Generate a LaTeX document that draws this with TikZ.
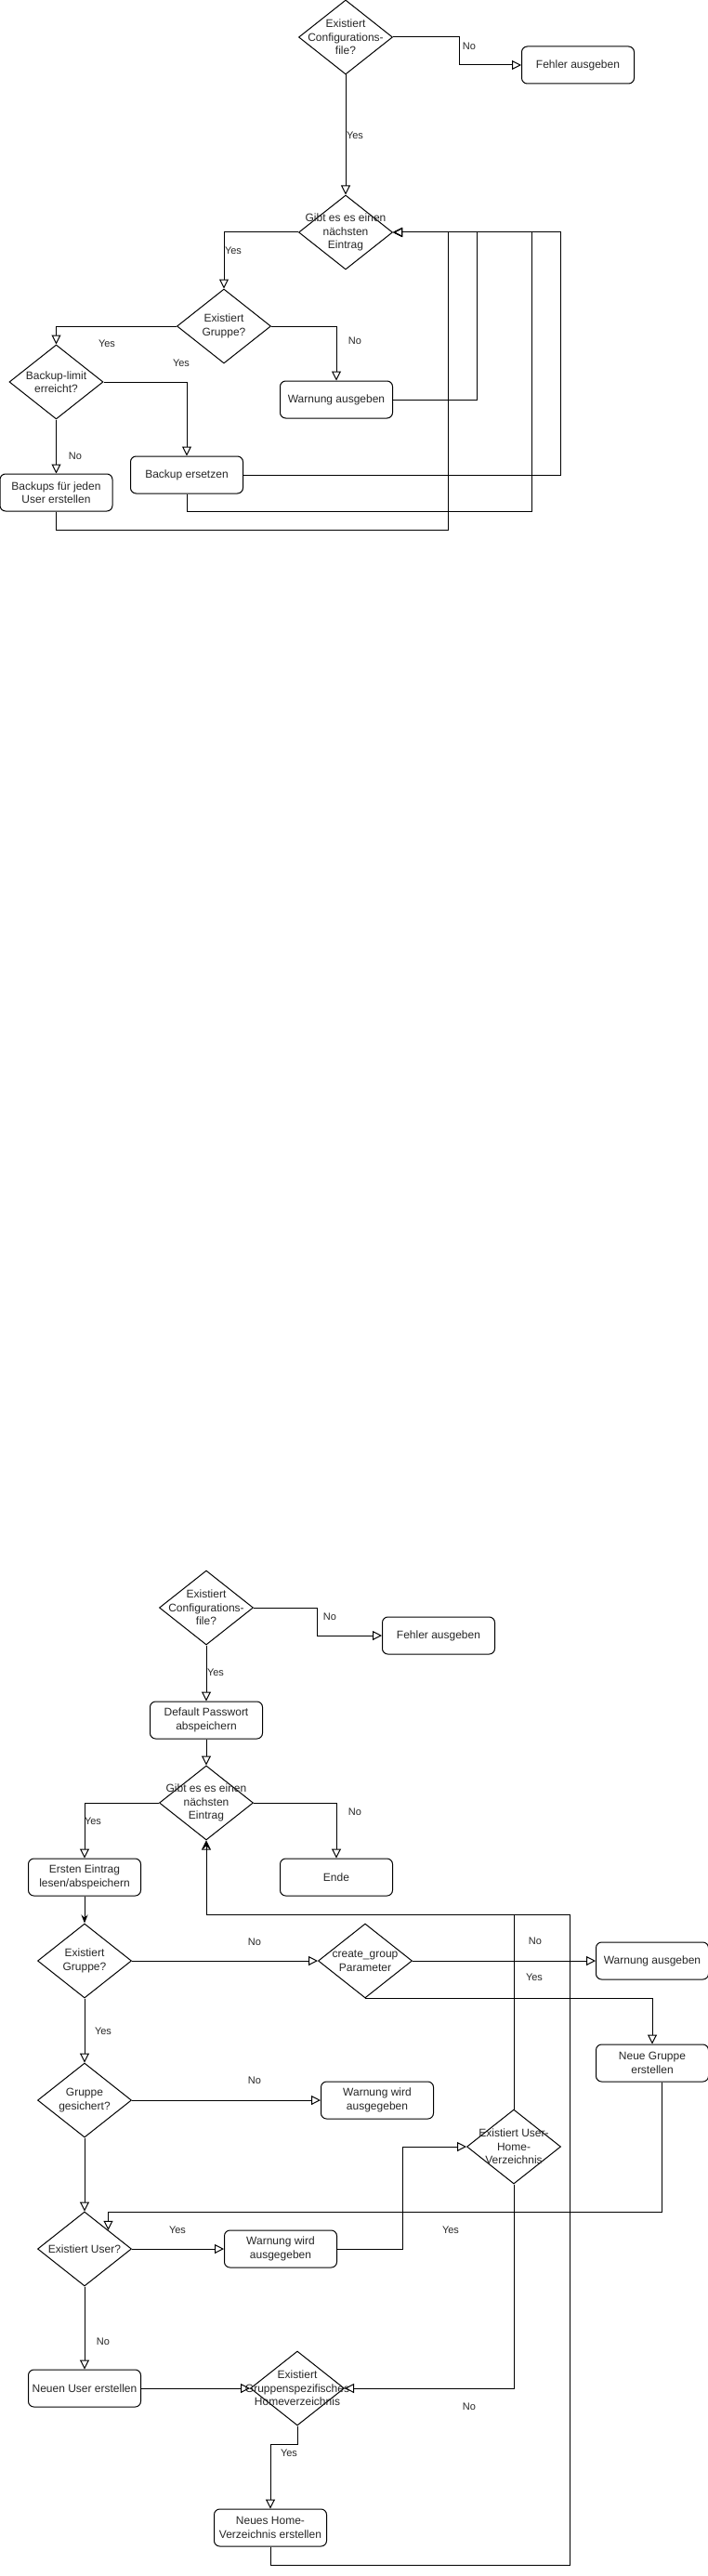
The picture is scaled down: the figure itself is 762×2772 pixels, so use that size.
\documentclass[tikz,border=0pt]{standalone}
\usepackage{fontspec}
\setmainfont{Liberation Sans}
\usetikzlibrary{shapes.geometric,arrows.meta}

\newcommand{\boxfont}{\fontsize{12}{14.4}\selectfont}
\newcommand{\lblfont}{\fontsize{11}{13}\selectfont}

\begin{document}
\begin{tikzpicture}[x=1pt,y=-1pt,line width=1pt,
    decision/.style={diamond,draw,minimum width=101pt,minimum height=80pt,inner sep=0pt},
    dtext/.style={align=center,font=\boxfont,text=black!85},
    process/.style={draw,rounded corners=6pt,minimum width=121pt,minimum height=40pt,
        inner sep=0pt,align=center,font=\boxfont,text=black!85},
    flow/.style={-{Triangle[open,length=10pt,width=10pt]}},
    flowfill/.style={-{Stealth[length=9pt,width=7pt]}},
    lbl/.style={font=\lblfont,text=black!85,inner sep=0pt}]

    \useasboundingbox (0,0) rectangle (762,2772);

    % Backup: Nodes
    \node[decision,label={[dtext]center:Existiert\\Configurations-\\file?}] (cfgA) at (372,40) {};
    \node[process] (errA) at (622,70) {Fehler ausgeben};
    \node[decision,label={[dtext]center:Gibt es es einen\\nächsten\\Eintrag}] (nextA) at (372,250) {};
    \node[decision,label={[dtext]center:Existiert\\Gruppe?}] (grpA) at (241,351) {};
    \node[decision,label={[dtext]center:Backup-limit\\erreicht?}] (limA) at (60.5,411) {};
    \node[process] (warnA) at (362,430) {Warnung ausgeben};
    \node[process] (replA) at (201,511) {Backup ersetzen};
    \node[process] (bkpA) at (60.5,530) {Backups für jeden\\User erstellen};

    % Backup: Connectors
    \draw[flow] (cfgA.east) -- ++(71,0) |- (errA.west);
    \draw[flow] (cfgA.south) -- (nextA.north);
    \draw[flow] (nextA.west) -| (grpA.north);
    \draw[flow] (grpA.west) -| (limA.north);
    \draw[flow] (grpA.east) -| (warnA.north);
    \draw[flow] (limA.east) -| (replA.north);
    \draw[flow] (limA.south) -- (bkpA.north);

    % Backup: back to next entry
    \draw[flow] (warnA.east) -- ++(90,0) |- (nextA.east);
    \draw[flow] (replA.east) -- ++(341.5,0) |- (nextA.east);
    \draw[flow] (replA.south) -- ++(0,19) -- ++(371,0) |- (nextA.east);
    \draw[flow] (bkpA.south) -- ++(0,20) -- ++(421.5,0) |- (nextA.east);

    % Backup: Labels
    \node[lbl] (lA1) at (505,50) {No};
    \node[lbl] (lA2) at (382,146) {Yes};
    \node[lbl] (lA3) at (251,270) {Yes};
    \node[lbl] (lA4) at (115,370) {Yes};
    \node[lbl] (lA5) at (382,367) {No};
    \node[lbl] (lA6) at (195,391) {Yes};
    \node[lbl] (lA7) at (81,491) {No};

    % Users: Nodes
    \node[decision,label={[dtext]center:Existiert\\Configurations-\\file?}] (cfgB) at (222,1730) {};
    \node[process] (errB) at (472,1760) {Fehler ausgeben};
    \node[process] (pwdB) at (222,1851) {Default Passwort\\abspeichern};
    \node[decision,label={[dtext]center:Gibt es es einen\\nächsten\\Eintrag}] (nextB) at (222,1940) {};
    \node[process] (readB) at (91,2020) {Ersten Eintrag\\lesen/abspeichern};
    \node[process] (endB) at (362,2020) {Ende};
    \node[decision,label={[dtext]center:Existiert\\Gruppe?}] (grpB) at (91,2110) {};
    \node[decision,label={[dtext]center:create\_group\\Parameter}] (paramB) at (393,2110) {};
    \node[process] (warnB) at (702,2110) {Warnung ausgeben};
    \node[process] (newgrpB) at (702,2220) {Neue Gruppe\\erstellen};
    \node[decision,label={[dtext]center:Gruppe\\gesichert?}] (savedB) at (91,2260) {};
    \node[process] (warnC) at (406,2260) {Warnung wird\\ausgegeben};
    \node[decision,label={[dtext]center:Existiert User-\\Home-\\Verzeichnis}] (homeB) at (553,2310) {};
    \node[decision,label={[dtext]center:Existiert User?}] (userB) at (91,2420) {};
    \node[process] (warnD) at (302,2420) {Warnung wird\\ausgegeben};
    \node[process] (newuserB) at (91,2570) {Neuen User erstellen};
    \node[decision,label={[dtext]center:Existiert\\Gruppenspezifisches\\Homeverzeichnis}] (ghomeB) at (320,2570) {};
    \node[process] (newhomeB) at (291,2720) {Neues Home-\\Verzeichnis erstellen};
    \coordinate (loopB) at (613,2060);

    % Users: Connectors
    \draw[flow] (cfgB.east) -- ++(68.5,0) |- (errB.west);
    \draw[flow] (cfgB.south) -- (pwdB.north);
    \draw[flow] (pwdB.south) -- (nextB.north);
    \draw[flow] (nextB.west) -| (readB.north);
    \draw[flow] (nextB.east) -| (endB.north);
    \draw[flowfill] (readB.south) -- (grpB.north);
    \draw[flow] (grpB.east) -- (paramB.west);
    \draw[flow] (paramB.east) -- (warnB.west);
    \draw[flow] (paramB.south) -| (newgrpB.north);
    \draw[flow] (grpB.south) -- (savedB.north);
    \draw[flow] (savedB.east) -- (warnC.west);
    \draw[flow] (savedB.south) -- (userB.north);
    \draw[flow] ([xshift=10pt]newgrpB.south) -- ++(0,140) -| (userB.north east);
    \draw[flow] (userB.east) -- (warnD.west);
    \draw[flow] (warnD.east) -- ++(70,0) |- (homeB.west);
    \draw[flow] (homeB.south) |- (ghomeB.east);
    \draw[flow] (userB.south) -- (newuserB.north);
    \draw[flow] (newuserB.east) -- (ghomeB.west);
    \draw[flow] (ghomeB.south) -- ++(0,20) -| (newhomeB.north);

    % Users: back to next entry
    \draw[flow] (newhomeB.south) -- ++(0,20) -| (loopB) -| (nextB.south);
    \draw[flowfill] (homeB.north) -- (homeB.north |- loopB) -| (nextB.south);

    % Users: Labels
    \node[lbl] (lB1) at (355,1740) {No};
    \node[lbl] (lB2) at (232,1800) {Yes};
    \node[lbl] (lB3) at (100,1960) {Yes};
    \node[lbl] (lB4) at (382,1950) {No};
    \node[lbl] (lB5) at (274,2090) {No};
    \node[lbl] (lB6) at (576,2089) {No};
    \node[lbl] (lB7) at (575,2128) {Yes};
    \node[lbl] (lB8) at (111,2186) {Yes};
    \node[lbl] (lB9) at (274,2239) {No};
    \node[lbl] (lB10) at (191,2400) {Yes};
    \node[lbl] (lB11) at (485,2400) {Yes};
    \node[lbl] (lB12) at (111,2520) {No};
    \node[lbl] (lB13) at (505,2590) {No};
    \node[lbl] (lB14) at (311,2640) {Yes};
\end{tikzpicture}
\end{document}
